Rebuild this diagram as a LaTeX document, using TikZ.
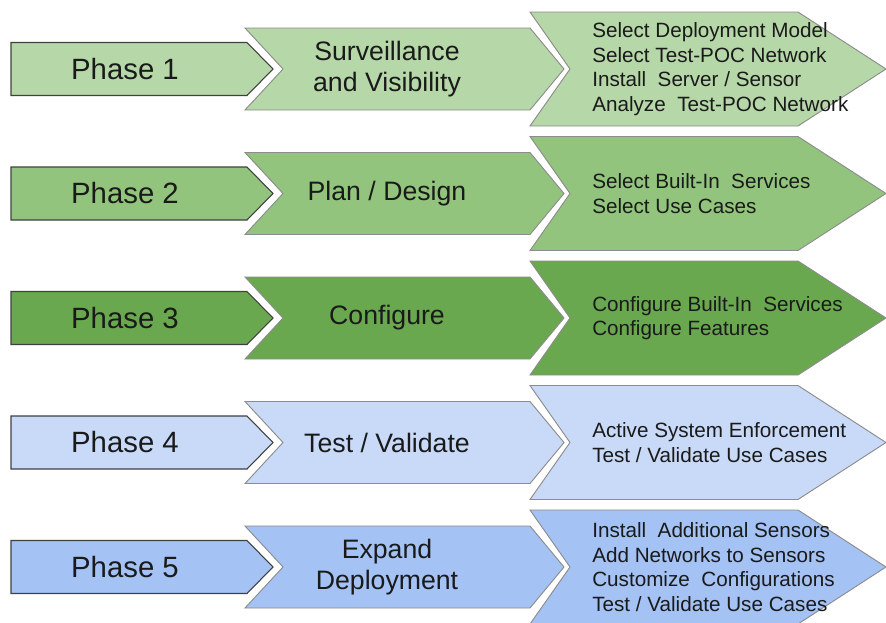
\documentclass[tikz,border=0pt]{standalone}
\usepackage{fontspec}
\setmainfont{Liberation Sans}
\definecolor{rowA}{HTML}{B6D7A8}
\definecolor{rowB}{HTML}{93C47D}
\definecolor{rowC}{HTML}{6AA84F}
\definecolor{rowD}{HTML}{C9DAF8}
\definecolor{rowE}{HTML}{A4C2F4}
\definecolor{txt}{HTML}{1A1A1A}
\newcommand{\phaserow}[6]{%
  \draw[chevline, fill=#3] (530,#2-57) -- (798,#2-57) -- (886,#2) -- (798,#2+57) -- (530,#2+57) -- (570,#2) -- cycle;
  \draw[chevline, fill=#3] (245,#2-41) -- (530,#2-41) -- (564,#2) -- (530,#2+41) -- (245,#2+41) -- (283,#2) -- cycle;
  \draw[phaseline, fill=#3] (11,#2-26.5) -- (247,#2-26.5) -- (273,#2) -- (247,#2+26.5) -- (11,#2+26.5) -- cycle;
  \node[phasetxt] (phase#1) at (125,#2) {#4};
  \node[midtxt] (mid#1) at (387,#2) {#5};
  \node[listtxt] (list#1) at (592,#2) {#6};
}
\begin{document}
\begin{tikzpicture}[x=0.75pt,y=-0.75pt,
  phaseline/.style={draw=black!75, line width=0.8pt, line join=miter},
  chevline/.style={draw=black!45, line width=0.7pt, line join=miter},
  phasetxt/.style={font=\fontsize{22}{26}\selectfont, text=txt, inner sep=0pt},
  midtxt/.style={font=\fontsize{20}{23.5}\selectfont, align=center, text=txt, inner sep=0pt},
  listtxt/.style={font=\fontsize{15.5}{18.4}\selectfont, align=left, anchor=west, text=txt, inner sep=0pt}]
\useasboundingbox (0,0) rectangle (886,622);
\phaserow{1}{69}{rowA}{Phase 1}{Surveillance\\and Visibility}{Select Deployment Model\\Select Test-POC Network\\Install\ \ Server / Sensor\\Analyze\ \ Test-POC Network}
\phaserow{2}{193.5}{rowB}{Phase 2}{Plan / Design}{Select Built-In\ \ Services\\Select Use Cases}
\phaserow{3}{318}{rowC}{Phase 3}{Configure}{Configure Built-In\ \ Services\\Configure Features}
\phaserow{4}{442.5}{rowD}{Phase 4}{Test / Validate}{Active System Enforcement\\Test / Validate Use Cases}
\phaserow{5}{567}{rowE}{Phase 5}{Expand\\Deployment}{Install\ \ Additional Sensors\\Add Networks to Sensors\\Customize\ \ Configurations\\Test / Validate Use Cases}
\end{tikzpicture}
\end{document}
